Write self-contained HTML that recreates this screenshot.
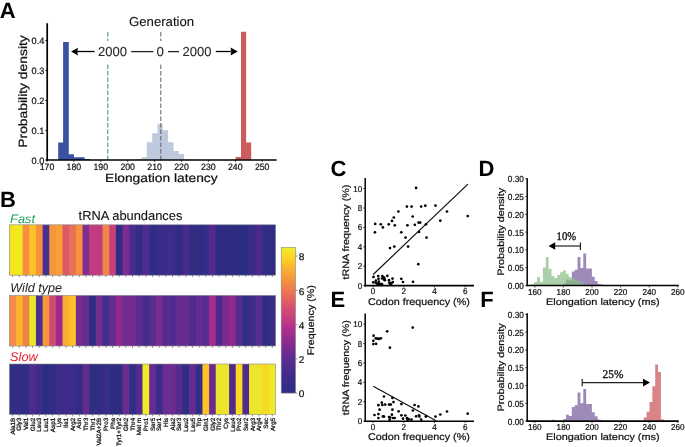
<!DOCTYPE html>
<html><head><meta charset="utf-8"><style>
html,body{margin:0;padding:0;background:#fff;}
svg{display:block;will-change:transform;text-rendering:geometricPrecision;font-family:"Liberation Sans", sans-serif;}
</style></head><body>
<svg width="685" height="447" viewBox="0 0 685 447">
<rect width="685" height="447" fill="#fff"/>
<text x="-0.20" y="17.70" font-size="22" fill="#000" font-weight="bold">A</text>
<path d="M136.20 160.00 L136.20 159.20 L141.50 159.20 L141.50 157.30 L146.80 157.30 L146.80 142.20 L152.20 142.20 L152.20 133.20 L157.50 133.20 L157.50 124.30 L162.80 124.30 L162.80 130.30 L168.10 130.30 L168.10 142.20 L173.50 142.20 L173.50 151.10 L178.80 151.10 L178.80 154.10 L184.10 154.10 L184.10 159.50 L189.40 159.50 L189.40 159.50 L194.70 159.50 L194.70 160.00 Z" fill="#bfc9de"/>
<path d="M58.20 160.00 L58.20 142.40 L63.10 142.40 L63.10 42.00 L68.80 42.00 L68.80 154.20 L73.90 154.20 L73.90 157.30 L79.30 157.30 L79.30 157.30 L84.70 157.30 L84.70 159.00 L90.00 159.00 L90.00 160.00 Z" fill="#3a52a2"/>
<path d="M235.60 160.00 L235.60 157.00 L241.00 157.00 L241.00 31.80 L246.10 31.80 L246.10 142.40 L251.20 142.40 L251.20 160.00 Z" fill="#cd5b5b"/>
<g stroke-dasharray="4.5 2.0" stroke-width="1.7">
<line x1="107.80" y1="32.00" x2="107.80" y2="160.00" stroke="#2a955a" stroke-width="1"/>
<line x1="160.80" y1="32.00" x2="160.80" y2="160.00" stroke="#606060" stroke-width="1"/>
</g>
<rect x="96.00" y="41.00" width="118.00" height="23.30" fill="#fff"/>
<line x1="47.20" y1="23.20" x2="47.20" y2="160.80" stroke="#000" stroke-width="1.7"/>
<line x1="46.40" y1="160.00" x2="276.60" y2="160.00" stroke="#000" stroke-width="1.7"/>
<line x1="45.20" y1="40.60" x2="47.20" y2="40.60" stroke="#000" stroke-width="0.8"/>
<text x="44.40" y="44.40" font-size="9.2" fill="#111" text-anchor="end" textLength="12.80" lengthAdjust="spacingAndGlyphs" stroke="#111" stroke-width="0.22">0.4</text>
<line x1="45.20" y1="70.40" x2="47.20" y2="70.40" stroke="#000" stroke-width="0.8"/>
<text x="44.40" y="74.20" font-size="9.2" fill="#111" text-anchor="end" textLength="12.80" lengthAdjust="spacingAndGlyphs" stroke="#111" stroke-width="0.22">0.3</text>
<line x1="45.20" y1="100.40" x2="47.20" y2="100.40" stroke="#000" stroke-width="0.8"/>
<text x="44.40" y="104.20" font-size="9.2" fill="#111" text-anchor="end" textLength="12.80" lengthAdjust="spacingAndGlyphs" stroke="#111" stroke-width="0.22">0.2</text>
<line x1="45.20" y1="130.40" x2="47.20" y2="130.40" stroke="#000" stroke-width="0.8"/>
<text x="44.40" y="134.20" font-size="9.2" fill="#111" text-anchor="end" textLength="12.80" lengthAdjust="spacingAndGlyphs" stroke="#111" stroke-width="0.22">0.1</text>
<line x1="45.20" y1="160.00" x2="47.20" y2="160.00" stroke="#000" stroke-width="0.8"/>
<text x="44.40" y="163.80" font-size="9.2" fill="#111" text-anchor="end" textLength="12.80" lengthAdjust="spacingAndGlyphs" stroke="#111" stroke-width="0.22">0.0</text>
<line x1="47.00" y1="160.00" x2="47.00" y2="161.80" stroke="#000" stroke-width="0.8"/>
<text x="47.00" y="169.70" font-size="9.2" fill="#111" text-anchor="middle" textLength="14.60" lengthAdjust="spacingAndGlyphs" stroke="#111" stroke-width="0.22">170</text>
<line x1="73.90" y1="160.00" x2="73.90" y2="161.80" stroke="#000" stroke-width="0.8"/>
<text x="73.90" y="169.70" font-size="9.2" fill="#111" text-anchor="middle" textLength="14.60" lengthAdjust="spacingAndGlyphs" stroke="#111" stroke-width="0.22">180</text>
<line x1="100.80" y1="160.00" x2="100.80" y2="161.80" stroke="#000" stroke-width="0.8"/>
<text x="100.80" y="169.70" font-size="9.2" fill="#111" text-anchor="middle" textLength="14.60" lengthAdjust="spacingAndGlyphs" stroke="#111" stroke-width="0.22">190</text>
<line x1="127.70" y1="160.00" x2="127.70" y2="161.80" stroke="#000" stroke-width="0.8"/>
<text x="127.70" y="169.70" font-size="9.2" fill="#111" text-anchor="middle" textLength="14.60" lengthAdjust="spacingAndGlyphs" stroke="#111" stroke-width="0.22">200</text>
<line x1="154.60" y1="160.00" x2="154.60" y2="161.80" stroke="#000" stroke-width="0.8"/>
<text x="154.60" y="169.70" font-size="9.2" fill="#111" text-anchor="middle" textLength="14.60" lengthAdjust="spacingAndGlyphs" stroke="#111" stroke-width="0.22">210</text>
<line x1="181.50" y1="160.00" x2="181.50" y2="161.80" stroke="#000" stroke-width="0.8"/>
<text x="181.50" y="169.70" font-size="9.2" fill="#111" text-anchor="middle" textLength="14.60" lengthAdjust="spacingAndGlyphs" stroke="#111" stroke-width="0.22">220</text>
<line x1="208.40" y1="160.00" x2="208.40" y2="161.80" stroke="#000" stroke-width="0.8"/>
<text x="208.40" y="169.70" font-size="9.2" fill="#111" text-anchor="middle" textLength="14.60" lengthAdjust="spacingAndGlyphs" stroke="#111" stroke-width="0.22">230</text>
<line x1="235.30" y1="160.00" x2="235.30" y2="161.80" stroke="#000" stroke-width="0.8"/>
<text x="235.30" y="169.70" font-size="9.2" fill="#111" text-anchor="middle" textLength="14.60" lengthAdjust="spacingAndGlyphs" stroke="#111" stroke-width="0.22">240</text>
<line x1="262.20" y1="160.00" x2="262.20" y2="161.80" stroke="#000" stroke-width="0.8"/>
<text x="262.20" y="169.70" font-size="9.2" fill="#111" text-anchor="middle" textLength="14.60" lengthAdjust="spacingAndGlyphs" stroke="#111" stroke-width="0.22">250</text>
<text x="105.00" y="182.00" font-size="12.0" fill="#111" textLength="112.60" lengthAdjust="spacingAndGlyphs" stroke="#111" stroke-width="0.22">Elongation latency</text>
<text x="26.70" y="147.70" font-size="12.0" fill="#111" textLength="112.50" lengthAdjust="spacingAndGlyphs" transform="rotate(-90 26.70 147.70)" stroke="#111" stroke-width="0.22">Probability density</text>
<text x="129.00" y="25.90" font-size="13.0" fill="#111" textLength="65.20" lengthAdjust="spacingAndGlyphs" stroke="#111" stroke-width="0.1">Generation</text>
<text x="98.00" y="55.80" font-size="13.0" fill="#2a2a2a" textLength="29.00" lengthAdjust="spacingAndGlyphs" stroke="#2a2a2a" stroke-width="0.1">2000</text>
<text x="156.60" y="55.80" font-size="13.0" fill="#2a2a2a" textLength="7.40" lengthAdjust="spacingAndGlyphs" stroke="#2a2a2a" stroke-width="0.1">0</text>
<text x="182.40" y="55.80" font-size="13.0" fill="#2a2a2a" textLength="29.00" lengthAdjust="spacingAndGlyphs" stroke="#2a2a2a" stroke-width="0.1">2000</text>
<line x1="131.20" y1="51.60" x2="153.40" y2="51.60" stroke="#222" stroke-width="1.3"/>
<line x1="168.00" y1="51.60" x2="179.00" y2="51.60" stroke="#222" stroke-width="1.3"/>
<line x1="77.00" y1="51.50" x2="94.70" y2="51.50" stroke="#000" stroke-width="1.3"/>
<path d="M71.1 51.5 L78.0 47.8 L77.2 51.5 L78.0 55.6 Z" fill="#000"/>
<line x1="215.80" y1="51.50" x2="231.00" y2="51.50" stroke="#000" stroke-width="1.3"/>
<path d="M237.8 51.5 L230.5 47.6 L231.3 51.5 L230.5 55.4 Z" fill="#000"/>
<text x="-0.10" y="206.80" font-size="22" fill="#000" font-weight="bold">B</text>
<text x="10.00" y="222.80" font-size="12.3" fill="#1fa05a" font-style="italic" textLength="25.20" lengthAdjust="spacingAndGlyphs">Fast</text>
<text x="78.60" y="220.00" font-size="13.0" fill="#111" textLength="103.80" lengthAdjust="spacingAndGlyphs" stroke="#111" stroke-width="0.1">tRNA abundances</text>
<text x="10.30" y="291.70" font-size="12.6" fill="#222" font-style="italic" textLength="51.80" lengthAdjust="spacingAndGlyphs">Wild type</text>
<text x="10.00" y="360.80" font-size="12.6" fill="#e3232c" font-style="italic" textLength="27.80" lengthAdjust="spacingAndGlyphs">Slow</text>
<rect x="9.30" y="224.80" width="7.36" height="50.40" fill="#f4e41f"/>
<rect x="15.96" y="224.80" width="7.36" height="50.40" fill="#f0e91f"/>
<rect x="22.62" y="224.80" width="7.36" height="50.40" fill="#f68d40"/>
<rect x="29.28" y="224.80" width="7.36" height="50.40" fill="#fbc328"/>
<rect x="35.94" y="224.80" width="7.36" height="50.40" fill="#f7913e"/>
<rect x="42.60" y="224.80" width="7.36" height="50.40" fill="#46318f"/>
<rect x="49.26" y="224.80" width="7.36" height="50.40" fill="#f6953d"/>
<rect x="55.92" y="224.80" width="7.36" height="50.40" fill="#f8a037"/>
<rect x="62.58" y="224.80" width="7.36" height="50.40" fill="#dc5a66"/>
<rect x="69.24" y="224.80" width="7.36" height="50.40" fill="#e97158"/>
<rect x="75.90" y="224.80" width="7.36" height="50.40" fill="#f6923f"/>
<rect x="82.56" y="224.80" width="7.36" height="50.40" fill="#7e2e8f"/>
<rect x="89.22" y="224.80" width="7.36" height="50.40" fill="#c23a80"/>
<rect x="95.88" y="224.80" width="7.36" height="50.40" fill="#c23a80"/>
<rect x="102.54" y="224.80" width="7.36" height="50.40" fill="#f0874a"/>
<rect x="109.20" y="224.80" width="7.36" height="50.40" fill="#c9417a"/>
<rect x="115.86" y="224.80" width="7.36" height="50.40" fill="#2f2d85"/>
<rect x="122.52" y="224.80" width="7.36" height="50.40" fill="#7a2c90"/>
<rect x="129.18" y="224.80" width="7.36" height="50.40" fill="#4a2c8e"/>
<rect x="135.84" y="224.80" width="7.36" height="50.40" fill="#302d85"/>
<rect x="142.50" y="224.80" width="7.36" height="50.40" fill="#532a8e"/>
<rect x="149.16" y="224.80" width="7.36" height="50.40" fill="#2f2d85"/>
<rect x="155.82" y="224.80" width="7.36" height="50.40" fill="#372c88"/>
<rect x="162.48" y="224.80" width="7.36" height="50.40" fill="#3b2b8a"/>
<rect x="169.14" y="224.80" width="7.36" height="50.40" fill="#3d2b8a"/>
<rect x="175.80" y="224.80" width="7.36" height="50.40" fill="#2f2d83"/>
<rect x="182.46" y="224.80" width="7.36" height="50.40" fill="#472a8c"/>
<rect x="189.12" y="224.80" width="7.36" height="50.40" fill="#302d82"/>
<rect x="195.78" y="224.80" width="7.36" height="50.40" fill="#302d80"/>
<rect x="202.44" y="224.80" width="7.36" height="50.40" fill="#322d88"/>
<rect x="209.10" y="224.80" width="7.36" height="50.40" fill="#52298d"/>
<rect x="215.76" y="224.80" width="7.36" height="50.40" fill="#2e2d82"/>
<rect x="222.42" y="224.80" width="7.36" height="50.40" fill="#2e2d82"/>
<rect x="229.08" y="224.80" width="7.36" height="50.40" fill="#2c2d80"/>
<rect x="235.74" y="224.80" width="7.36" height="50.40" fill="#2c2d80"/>
<rect x="242.40" y="224.80" width="7.36" height="50.40" fill="#2d2d82"/>
<rect x="249.06" y="224.80" width="7.36" height="50.40" fill="#3a2b88"/>
<rect x="255.72" y="224.80" width="7.36" height="50.40" fill="#4c2a8d"/>
<rect x="262.38" y="224.80" width="7.36" height="50.40" fill="#302d84"/>
<rect x="269.04" y="224.80" width="6.66" height="50.40" fill="#2f2d83"/>
<rect x="9.30" y="224.80" width="266.40" height="50.40" fill="none" stroke="#8a8a8a" stroke-width="0.6"/>
<line x1="12.63" y1="275.20" x2="12.63" y2="277.10" stroke="#666" stroke-width="0.7"/>
<line x1="19.29" y1="275.20" x2="19.29" y2="277.10" stroke="#666" stroke-width="0.7"/>
<line x1="25.95" y1="275.20" x2="25.95" y2="277.10" stroke="#666" stroke-width="0.7"/>
<line x1="32.61" y1="275.20" x2="32.61" y2="277.10" stroke="#666" stroke-width="0.7"/>
<line x1="39.27" y1="275.20" x2="39.27" y2="277.10" stroke="#666" stroke-width="0.7"/>
<line x1="45.93" y1="275.20" x2="45.93" y2="277.10" stroke="#666" stroke-width="0.7"/>
<line x1="52.59" y1="275.20" x2="52.59" y2="277.10" stroke="#666" stroke-width="0.7"/>
<line x1="59.25" y1="275.20" x2="59.25" y2="277.10" stroke="#666" stroke-width="0.7"/>
<line x1="65.91" y1="275.20" x2="65.91" y2="277.10" stroke="#666" stroke-width="0.7"/>
<line x1="72.57" y1="275.20" x2="72.57" y2="277.10" stroke="#666" stroke-width="0.7"/>
<line x1="79.23" y1="275.20" x2="79.23" y2="277.10" stroke="#666" stroke-width="0.7"/>
<line x1="85.89" y1="275.20" x2="85.89" y2="277.10" stroke="#666" stroke-width="0.7"/>
<line x1="92.55" y1="275.20" x2="92.55" y2="277.10" stroke="#666" stroke-width="0.7"/>
<line x1="99.21" y1="275.20" x2="99.21" y2="277.10" stroke="#666" stroke-width="0.7"/>
<line x1="105.87" y1="275.20" x2="105.87" y2="277.10" stroke="#666" stroke-width="0.7"/>
<line x1="112.53" y1="275.20" x2="112.53" y2="277.10" stroke="#666" stroke-width="0.7"/>
<line x1="119.19" y1="275.20" x2="119.19" y2="277.10" stroke="#666" stroke-width="0.7"/>
<line x1="125.85" y1="275.20" x2="125.85" y2="277.10" stroke="#666" stroke-width="0.7"/>
<line x1="132.51" y1="275.20" x2="132.51" y2="277.10" stroke="#666" stroke-width="0.7"/>
<line x1="139.17" y1="275.20" x2="139.17" y2="277.10" stroke="#666" stroke-width="0.7"/>
<line x1="145.83" y1="275.20" x2="145.83" y2="277.10" stroke="#666" stroke-width="0.7"/>
<line x1="152.49" y1="275.20" x2="152.49" y2="277.10" stroke="#666" stroke-width="0.7"/>
<line x1="159.15" y1="275.20" x2="159.15" y2="277.10" stroke="#666" stroke-width="0.7"/>
<line x1="165.81" y1="275.20" x2="165.81" y2="277.10" stroke="#666" stroke-width="0.7"/>
<line x1="172.47" y1="275.20" x2="172.47" y2="277.10" stroke="#666" stroke-width="0.7"/>
<line x1="179.13" y1="275.20" x2="179.13" y2="277.10" stroke="#666" stroke-width="0.7"/>
<line x1="185.79" y1="275.20" x2="185.79" y2="277.10" stroke="#666" stroke-width="0.7"/>
<line x1="192.45" y1="275.20" x2="192.45" y2="277.10" stroke="#666" stroke-width="0.7"/>
<line x1="199.11" y1="275.20" x2="199.11" y2="277.10" stroke="#666" stroke-width="0.7"/>
<line x1="205.77" y1="275.20" x2="205.77" y2="277.10" stroke="#666" stroke-width="0.7"/>
<line x1="212.43" y1="275.20" x2="212.43" y2="277.10" stroke="#666" stroke-width="0.7"/>
<line x1="219.09" y1="275.20" x2="219.09" y2="277.10" stroke="#666" stroke-width="0.7"/>
<line x1="225.75" y1="275.20" x2="225.75" y2="277.10" stroke="#666" stroke-width="0.7"/>
<line x1="232.41" y1="275.20" x2="232.41" y2="277.10" stroke="#666" stroke-width="0.7"/>
<line x1="239.07" y1="275.20" x2="239.07" y2="277.10" stroke="#666" stroke-width="0.7"/>
<line x1="245.73" y1="275.20" x2="245.73" y2="277.10" stroke="#666" stroke-width="0.7"/>
<line x1="252.39" y1="275.20" x2="252.39" y2="277.10" stroke="#666" stroke-width="0.7"/>
<line x1="259.05" y1="275.20" x2="259.05" y2="277.10" stroke="#666" stroke-width="0.7"/>
<line x1="265.71" y1="275.20" x2="265.71" y2="277.10" stroke="#666" stroke-width="0.7"/>
<line x1="272.37" y1="275.20" x2="272.37" y2="277.10" stroke="#666" stroke-width="0.7"/>
<rect x="9.30" y="295.40" width="7.36" height="50.60" fill="#f48a48"/>
<rect x="15.96" y="295.40" width="7.36" height="50.60" fill="#fbb42c"/>
<rect x="22.62" y="295.40" width="7.36" height="50.60" fill="#f08248"/>
<rect x="29.28" y="295.40" width="7.36" height="50.60" fill="#ebe52c"/>
<rect x="35.94" y="295.40" width="7.36" height="50.60" fill="#4a2f8f"/>
<rect x="42.60" y="295.40" width="7.36" height="50.60" fill="#f6963f"/>
<rect x="49.26" y="295.40" width="7.36" height="50.60" fill="#cc4c72"/>
<rect x="55.92" y="295.40" width="7.36" height="50.60" fill="#9c2a92"/>
<rect x="62.58" y="295.40" width="7.36" height="50.60" fill="#f9b02e"/>
<rect x="69.24" y="295.40" width="7.36" height="50.60" fill="#fbc228"/>
<rect x="75.90" y="295.40" width="7.36" height="50.60" fill="#752b90"/>
<rect x="82.56" y="295.40" width="7.36" height="50.60" fill="#662b8f"/>
<rect x="89.22" y="295.40" width="7.36" height="50.60" fill="#2f2d85"/>
<rect x="95.88" y="295.40" width="7.36" height="50.60" fill="#732c90"/>
<rect x="102.54" y="295.40" width="7.36" height="50.60" fill="#412d8c"/>
<rect x="109.20" y="295.40" width="7.36" height="50.60" fill="#622c8f"/>
<rect x="115.86" y="295.40" width="7.36" height="50.60" fill="#902a8c"/>
<rect x="122.52" y="295.40" width="7.36" height="50.60" fill="#6f2c91"/>
<rect x="129.18" y="295.40" width="7.36" height="50.60" fill="#742c90"/>
<rect x="135.84" y="295.40" width="7.36" height="50.60" fill="#5a2c8f"/>
<rect x="142.50" y="295.40" width="7.36" height="50.60" fill="#452c8c"/>
<rect x="149.16" y="295.40" width="7.36" height="50.60" fill="#582b8e"/>
<rect x="155.82" y="295.40" width="7.36" height="50.60" fill="#7a2b8f"/>
<rect x="162.48" y="295.40" width="7.36" height="50.60" fill="#582b8e"/>
<rect x="169.14" y="295.40" width="7.36" height="50.60" fill="#502b8d"/>
<rect x="175.80" y="295.40" width="7.36" height="50.60" fill="#672c90"/>
<rect x="182.46" y="295.40" width="7.36" height="50.60" fill="#672c90"/>
<rect x="189.12" y="295.40" width="7.36" height="50.60" fill="#4f2b8d"/>
<rect x="195.78" y="295.40" width="7.36" height="50.60" fill="#632c90"/>
<rect x="202.44" y="295.40" width="7.36" height="50.60" fill="#562c8e"/>
<rect x="209.10" y="295.40" width="7.36" height="50.60" fill="#a82a8a"/>
<rect x="215.76" y="295.40" width="7.36" height="50.60" fill="#4a2b8d"/>
<rect x="222.42" y="295.40" width="7.36" height="50.60" fill="#7e2b8f"/>
<rect x="229.08" y="295.40" width="7.36" height="50.60" fill="#8e2b8c"/>
<rect x="235.74" y="295.40" width="7.36" height="50.60" fill="#562b8e"/>
<rect x="242.40" y="295.40" width="7.36" height="50.60" fill="#302d85"/>
<rect x="249.06" y="295.40" width="7.36" height="50.60" fill="#3d2c89"/>
<rect x="255.72" y="295.40" width="7.36" height="50.60" fill="#582b8e"/>
<rect x="262.38" y="295.40" width="7.36" height="50.60" fill="#2e2d83"/>
<rect x="269.04" y="295.40" width="6.66" height="50.60" fill="#3b2c89"/>
<rect x="9.30" y="295.40" width="266.40" height="50.60" fill="none" stroke="#8a8a8a" stroke-width="0.6"/>
<line x1="12.63" y1="346.00" x2="12.63" y2="347.90" stroke="#666" stroke-width="0.7"/>
<line x1="19.29" y1="346.00" x2="19.29" y2="347.90" stroke="#666" stroke-width="0.7"/>
<line x1="25.95" y1="346.00" x2="25.95" y2="347.90" stroke="#666" stroke-width="0.7"/>
<line x1="32.61" y1="346.00" x2="32.61" y2="347.90" stroke="#666" stroke-width="0.7"/>
<line x1="39.27" y1="346.00" x2="39.27" y2="347.90" stroke="#666" stroke-width="0.7"/>
<line x1="45.93" y1="346.00" x2="45.93" y2="347.90" stroke="#666" stroke-width="0.7"/>
<line x1="52.59" y1="346.00" x2="52.59" y2="347.90" stroke="#666" stroke-width="0.7"/>
<line x1="59.25" y1="346.00" x2="59.25" y2="347.90" stroke="#666" stroke-width="0.7"/>
<line x1="65.91" y1="346.00" x2="65.91" y2="347.90" stroke="#666" stroke-width="0.7"/>
<line x1="72.57" y1="346.00" x2="72.57" y2="347.90" stroke="#666" stroke-width="0.7"/>
<line x1="79.23" y1="346.00" x2="79.23" y2="347.90" stroke="#666" stroke-width="0.7"/>
<line x1="85.89" y1="346.00" x2="85.89" y2="347.90" stroke="#666" stroke-width="0.7"/>
<line x1="92.55" y1="346.00" x2="92.55" y2="347.90" stroke="#666" stroke-width="0.7"/>
<line x1="99.21" y1="346.00" x2="99.21" y2="347.90" stroke="#666" stroke-width="0.7"/>
<line x1="105.87" y1="346.00" x2="105.87" y2="347.90" stroke="#666" stroke-width="0.7"/>
<line x1="112.53" y1="346.00" x2="112.53" y2="347.90" stroke="#666" stroke-width="0.7"/>
<line x1="119.19" y1="346.00" x2="119.19" y2="347.90" stroke="#666" stroke-width="0.7"/>
<line x1="125.85" y1="346.00" x2="125.85" y2="347.90" stroke="#666" stroke-width="0.7"/>
<line x1="132.51" y1="346.00" x2="132.51" y2="347.90" stroke="#666" stroke-width="0.7"/>
<line x1="139.17" y1="346.00" x2="139.17" y2="347.90" stroke="#666" stroke-width="0.7"/>
<line x1="145.83" y1="346.00" x2="145.83" y2="347.90" stroke="#666" stroke-width="0.7"/>
<line x1="152.49" y1="346.00" x2="152.49" y2="347.90" stroke="#666" stroke-width="0.7"/>
<line x1="159.15" y1="346.00" x2="159.15" y2="347.90" stroke="#666" stroke-width="0.7"/>
<line x1="165.81" y1="346.00" x2="165.81" y2="347.90" stroke="#666" stroke-width="0.7"/>
<line x1="172.47" y1="346.00" x2="172.47" y2="347.90" stroke="#666" stroke-width="0.7"/>
<line x1="179.13" y1="346.00" x2="179.13" y2="347.90" stroke="#666" stroke-width="0.7"/>
<line x1="185.79" y1="346.00" x2="185.79" y2="347.90" stroke="#666" stroke-width="0.7"/>
<line x1="192.45" y1="346.00" x2="192.45" y2="347.90" stroke="#666" stroke-width="0.7"/>
<line x1="199.11" y1="346.00" x2="199.11" y2="347.90" stroke="#666" stroke-width="0.7"/>
<line x1="205.77" y1="346.00" x2="205.77" y2="347.90" stroke="#666" stroke-width="0.7"/>
<line x1="212.43" y1="346.00" x2="212.43" y2="347.90" stroke="#666" stroke-width="0.7"/>
<line x1="219.09" y1="346.00" x2="219.09" y2="347.90" stroke="#666" stroke-width="0.7"/>
<line x1="225.75" y1="346.00" x2="225.75" y2="347.90" stroke="#666" stroke-width="0.7"/>
<line x1="232.41" y1="346.00" x2="232.41" y2="347.90" stroke="#666" stroke-width="0.7"/>
<line x1="239.07" y1="346.00" x2="239.07" y2="347.90" stroke="#666" stroke-width="0.7"/>
<line x1="245.73" y1="346.00" x2="245.73" y2="347.90" stroke="#666" stroke-width="0.7"/>
<line x1="252.39" y1="346.00" x2="252.39" y2="347.90" stroke="#666" stroke-width="0.7"/>
<line x1="259.05" y1="346.00" x2="259.05" y2="347.90" stroke="#666" stroke-width="0.7"/>
<line x1="265.71" y1="346.00" x2="265.71" y2="347.90" stroke="#666" stroke-width="0.7"/>
<line x1="272.37" y1="346.00" x2="272.37" y2="347.90" stroke="#666" stroke-width="0.7"/>
<rect x="9.30" y="364.00" width="7.36" height="50.50" fill="#312d85"/>
<rect x="15.96" y="364.00" width="7.36" height="50.50" fill="#352c88"/>
<rect x="22.62" y="364.00" width="7.36" height="50.50" fill="#302d85"/>
<rect x="29.28" y="364.00" width="7.36" height="50.50" fill="#502b8c"/>
<rect x="35.94" y="364.00" width="7.36" height="50.50" fill="#3d2c8a"/>
<rect x="42.60" y="364.00" width="7.36" height="50.50" fill="#2d2d80"/>
<rect x="49.26" y="364.00" width="7.36" height="50.50" fill="#302d84"/>
<rect x="55.92" y="364.00" width="7.36" height="50.50" fill="#3d2c8a"/>
<rect x="62.58" y="364.00" width="7.36" height="50.50" fill="#3e2c8a"/>
<rect x="69.24" y="364.00" width="7.36" height="50.50" fill="#3c2c89"/>
<rect x="75.90" y="364.00" width="7.36" height="50.50" fill="#312d85"/>
<rect x="82.56" y="364.00" width="7.36" height="50.50" fill="#622b8e"/>
<rect x="89.22" y="364.00" width="7.36" height="50.50" fill="#2e2d82"/>
<rect x="95.88" y="364.00" width="7.36" height="50.50" fill="#2e2d82"/>
<rect x="102.54" y="364.00" width="7.36" height="50.50" fill="#3a2b89"/>
<rect x="109.20" y="364.00" width="7.36" height="50.50" fill="#2e2d82"/>
<rect x="115.86" y="364.00" width="7.36" height="50.50" fill="#2e2d82"/>
<rect x="122.52" y="364.00" width="7.36" height="50.50" fill="#6a2c8f"/>
<rect x="129.18" y="364.00" width="7.36" height="50.50" fill="#302d84"/>
<rect x="135.84" y="364.00" width="7.36" height="50.50" fill="#522b8d"/>
<rect x="142.50" y="364.00" width="7.36" height="50.50" fill="#eeeb2a"/>
<rect x="149.16" y="364.00" width="7.36" height="50.50" fill="#672c90"/>
<rect x="155.82" y="364.00" width="7.36" height="50.50" fill="#3a2c89"/>
<rect x="162.48" y="364.00" width="7.36" height="50.50" fill="#692c90"/>
<rect x="169.14" y="364.00" width="7.36" height="50.50" fill="#6b2c90"/>
<rect x="175.80" y="364.00" width="7.36" height="50.50" fill="#552b8e"/>
<rect x="182.46" y="364.00" width="7.36" height="50.50" fill="#2f2d84"/>
<rect x="189.12" y="364.00" width="7.36" height="50.50" fill="#652c8f"/>
<rect x="195.78" y="364.00" width="7.36" height="50.50" fill="#302d84"/>
<rect x="202.44" y="364.00" width="7.36" height="50.50" fill="#fbc328"/>
<rect x="209.10" y="364.00" width="7.36" height="50.50" fill="#6a2c90"/>
<rect x="215.76" y="364.00" width="7.36" height="50.50" fill="#ebe42c"/>
<rect x="222.42" y="364.00" width="7.36" height="50.50" fill="#ece52c"/>
<rect x="229.08" y="364.00" width="7.36" height="50.50" fill="#4e2b8c"/>
<rect x="235.74" y="364.00" width="7.36" height="50.50" fill="#f9dc20"/>
<rect x="242.40" y="364.00" width="7.36" height="50.50" fill="#4e2b8c"/>
<rect x="249.06" y="364.00" width="7.36" height="50.50" fill="#ebe52c"/>
<rect x="255.72" y="364.00" width="7.36" height="50.50" fill="#ebe52c"/>
<rect x="262.38" y="364.00" width="7.36" height="50.50" fill="#f8da20"/>
<rect x="269.04" y="364.00" width="6.66" height="50.50" fill="#f0e82a"/>
<rect x="9.30" y="364.00" width="266.40" height="50.50" fill="none" stroke="#8a8a8a" stroke-width="0.6"/>
<line x1="12.63" y1="414.50" x2="12.63" y2="416.40" stroke="#666" stroke-width="0.7"/>
<line x1="19.29" y1="414.50" x2="19.29" y2="416.40" stroke="#666" stroke-width="0.7"/>
<line x1="25.95" y1="414.50" x2="25.95" y2="416.40" stroke="#666" stroke-width="0.7"/>
<line x1="32.61" y1="414.50" x2="32.61" y2="416.40" stroke="#666" stroke-width="0.7"/>
<line x1="39.27" y1="414.50" x2="39.27" y2="416.40" stroke="#666" stroke-width="0.7"/>
<line x1="45.93" y1="414.50" x2="45.93" y2="416.40" stroke="#666" stroke-width="0.7"/>
<line x1="52.59" y1="414.50" x2="52.59" y2="416.40" stroke="#666" stroke-width="0.7"/>
<line x1="59.25" y1="414.50" x2="59.25" y2="416.40" stroke="#666" stroke-width="0.7"/>
<line x1="65.91" y1="414.50" x2="65.91" y2="416.40" stroke="#666" stroke-width="0.7"/>
<line x1="72.57" y1="414.50" x2="72.57" y2="416.40" stroke="#666" stroke-width="0.7"/>
<line x1="79.23" y1="414.50" x2="79.23" y2="416.40" stroke="#666" stroke-width="0.7"/>
<line x1="85.89" y1="414.50" x2="85.89" y2="416.40" stroke="#666" stroke-width="0.7"/>
<line x1="92.55" y1="414.50" x2="92.55" y2="416.40" stroke="#666" stroke-width="0.7"/>
<line x1="99.21" y1="414.50" x2="99.21" y2="416.40" stroke="#666" stroke-width="0.7"/>
<line x1="105.87" y1="414.50" x2="105.87" y2="416.40" stroke="#666" stroke-width="0.7"/>
<line x1="112.53" y1="414.50" x2="112.53" y2="416.40" stroke="#666" stroke-width="0.7"/>
<line x1="119.19" y1="414.50" x2="119.19" y2="416.40" stroke="#666" stroke-width="0.7"/>
<line x1="125.85" y1="414.50" x2="125.85" y2="416.40" stroke="#666" stroke-width="0.7"/>
<line x1="132.51" y1="414.50" x2="132.51" y2="416.40" stroke="#666" stroke-width="0.7"/>
<line x1="139.17" y1="414.50" x2="139.17" y2="416.40" stroke="#666" stroke-width="0.7"/>
<line x1="145.83" y1="414.50" x2="145.83" y2="416.40" stroke="#666" stroke-width="0.7"/>
<line x1="152.49" y1="414.50" x2="152.49" y2="416.40" stroke="#666" stroke-width="0.7"/>
<line x1="159.15" y1="414.50" x2="159.15" y2="416.40" stroke="#666" stroke-width="0.7"/>
<line x1="165.81" y1="414.50" x2="165.81" y2="416.40" stroke="#666" stroke-width="0.7"/>
<line x1="172.47" y1="414.50" x2="172.47" y2="416.40" stroke="#666" stroke-width="0.7"/>
<line x1="179.13" y1="414.50" x2="179.13" y2="416.40" stroke="#666" stroke-width="0.7"/>
<line x1="185.79" y1="414.50" x2="185.79" y2="416.40" stroke="#666" stroke-width="0.7"/>
<line x1="192.45" y1="414.50" x2="192.45" y2="416.40" stroke="#666" stroke-width="0.7"/>
<line x1="199.11" y1="414.50" x2="199.11" y2="416.40" stroke="#666" stroke-width="0.7"/>
<line x1="205.77" y1="414.50" x2="205.77" y2="416.40" stroke="#666" stroke-width="0.7"/>
<line x1="212.43" y1="414.50" x2="212.43" y2="416.40" stroke="#666" stroke-width="0.7"/>
<line x1="219.09" y1="414.50" x2="219.09" y2="416.40" stroke="#666" stroke-width="0.7"/>
<line x1="225.75" y1="414.50" x2="225.75" y2="416.40" stroke="#666" stroke-width="0.7"/>
<line x1="232.41" y1="414.50" x2="232.41" y2="416.40" stroke="#666" stroke-width="0.7"/>
<line x1="239.07" y1="414.50" x2="239.07" y2="416.40" stroke="#666" stroke-width="0.7"/>
<line x1="245.73" y1="414.50" x2="245.73" y2="416.40" stroke="#666" stroke-width="0.7"/>
<line x1="252.39" y1="414.50" x2="252.39" y2="416.40" stroke="#666" stroke-width="0.7"/>
<line x1="259.05" y1="414.50" x2="259.05" y2="416.40" stroke="#666" stroke-width="0.7"/>
<line x1="265.71" y1="414.50" x2="265.71" y2="416.40" stroke="#666" stroke-width="0.7"/>
<line x1="272.37" y1="414.50" x2="272.37" y2="416.40" stroke="#666" stroke-width="0.7"/>
<text x="14.83" y="417.80" font-size="6.3" fill="#111" text-anchor="end" transform="rotate(-90 14.83 417.80)" stroke="#111" stroke-width="0.25">Ala1B</text>
<text x="21.49" y="417.80" font-size="6.3" fill="#111" text-anchor="end" transform="rotate(-90 21.49 417.80)" stroke="#111" stroke-width="0.25">Gly3</text>
<text x="28.15" y="417.80" font-size="6.3" fill="#111" text-anchor="end" transform="rotate(-90 28.15 417.80)" stroke="#111" stroke-width="0.25">Val1</text>
<text x="34.81" y="417.80" font-size="6.3" fill="#111" text-anchor="end" transform="rotate(-90 34.81 417.80)" stroke="#111" stroke-width="0.25">Glu2</text>
<text x="41.47" y="417.80" font-size="6.3" fill="#111" text-anchor="end" transform="rotate(-90 41.47 417.80)" stroke="#111" stroke-width="0.25">Leu3</text>
<text x="48.13" y="417.80" font-size="6.3" fill="#111" text-anchor="end" transform="rotate(-90 48.13 417.80)" stroke="#111" stroke-width="0.25">Leu1</text>
<text x="54.79" y="417.80" font-size="6.3" fill="#111" text-anchor="end" transform="rotate(-90 54.79 417.80)" stroke="#111" stroke-width="0.25">Asp1</text>
<text x="61.45" y="417.80" font-size="6.3" fill="#111" text-anchor="end" transform="rotate(-90 61.45 417.80)" stroke="#111" stroke-width="0.25">Lys</text>
<text x="68.11" y="417.80" font-size="6.3" fill="#111" text-anchor="end" transform="rotate(-90 68.11 417.80)" stroke="#111" stroke-width="0.25">Ile1</text>
<text x="74.77" y="417.80" font-size="6.3" fill="#111" text-anchor="end" transform="rotate(-90 74.77 417.80)" stroke="#111" stroke-width="0.25">Arg2</text>
<text x="81.43" y="417.80" font-size="6.3" fill="#111" text-anchor="end" transform="rotate(-90 81.43 417.80)" stroke="#111" stroke-width="0.25">Asn</text>
<text x="88.09" y="417.80" font-size="6.3" fill="#111" text-anchor="end" transform="rotate(-90 88.09 417.80)" stroke="#111" stroke-width="0.25">Thr3</text>
<text x="94.75" y="417.80" font-size="6.3" fill="#111" text-anchor="end" transform="rotate(-90 94.75 417.80)" stroke="#111" stroke-width="0.25">Thr1</text>
<text x="101.41" y="417.80" font-size="6.3" fill="#111" text-anchor="end" transform="rotate(-90 101.41 417.80)" stroke="#111" stroke-width="0.25">Val2A+2B</text>
<text x="108.07" y="417.80" font-size="6.3" fill="#111" text-anchor="end" transform="rotate(-90 108.07 417.80)" stroke="#111" stroke-width="0.25">Pro3</text>
<text x="114.73" y="417.80" font-size="6.3" fill="#111" text-anchor="end" transform="rotate(-90 114.73 417.80)" stroke="#111" stroke-width="0.25">Phe</text>
<text x="121.39" y="417.80" font-size="6.3" fill="#111" text-anchor="end" transform="rotate(-90 121.39 417.80)" stroke="#111" stroke-width="0.25">Tyr1+Tyr2</text>
<text x="128.05" y="417.80" font-size="6.3" fill="#111" text-anchor="end" transform="rotate(-90 128.05 417.80)" stroke="#111" stroke-width="0.25">Gln2</text>
<text x="134.71" y="417.80" font-size="6.3" fill="#111" text-anchor="end" transform="rotate(-90 134.71 417.80)" stroke="#111" stroke-width="0.25">Thr4</text>
<text x="141.37" y="417.80" font-size="6.3" fill="#111" text-anchor="end" transform="rotate(-90 141.37 417.80)" stroke="#111" stroke-width="0.25">Met m</text>
<text x="148.03" y="417.80" font-size="6.3" fill="#111" text-anchor="end" transform="rotate(-90 148.03 417.80)" stroke="#111" stroke-width="0.25">Pro1</text>
<text x="154.69" y="417.80" font-size="6.3" fill="#111" text-anchor="end" transform="rotate(-90 154.69 417.80)" stroke="#111" stroke-width="0.25">Ser5</text>
<text x="161.35" y="417.80" font-size="6.3" fill="#111" text-anchor="end" transform="rotate(-90 161.35 417.80)" stroke="#111" stroke-width="0.25">Ser1</text>
<text x="168.01" y="417.80" font-size="6.3" fill="#111" text-anchor="end" transform="rotate(-90 168.01 417.80)" stroke="#111" stroke-width="0.25">His</text>
<text x="174.67" y="417.80" font-size="6.3" fill="#111" text-anchor="end" transform="rotate(-90 174.67 417.80)" stroke="#111" stroke-width="0.25">Ala2</text>
<text x="181.33" y="417.80" font-size="6.3" fill="#111" text-anchor="end" transform="rotate(-90 181.33 417.80)" stroke="#111" stroke-width="0.25">Ser3</text>
<text x="187.99" y="417.80" font-size="6.3" fill="#111" text-anchor="end" transform="rotate(-90 187.99 417.80)" stroke="#111" stroke-width="0.25">Leu2</text>
<text x="194.65" y="417.80" font-size="6.3" fill="#111" text-anchor="end" transform="rotate(-90 194.65 417.80)" stroke="#111" stroke-width="0.25">Leu5</text>
<text x="201.31" y="417.80" font-size="6.3" fill="#111" text-anchor="end" transform="rotate(-90 201.31 417.80)" stroke="#111" stroke-width="0.25">Trp</text>
<text x="207.97" y="417.80" font-size="6.3" fill="#111" text-anchor="end" transform="rotate(-90 207.97 417.80)" stroke="#111" stroke-width="0.25">Gln1</text>
<text x="214.63" y="417.80" font-size="6.3" fill="#111" text-anchor="end" transform="rotate(-90 214.63 417.80)" stroke="#111" stroke-width="0.25">Gly2</text>
<text x="221.29" y="417.80" font-size="6.3" fill="#111" text-anchor="end" transform="rotate(-90 221.29 417.80)" stroke="#111" stroke-width="0.25">Thr2</text>
<text x="227.95" y="417.80" font-size="6.3" fill="#111" text-anchor="end" transform="rotate(-90 227.95 417.80)" stroke="#111" stroke-width="0.25">Cys</text>
<text x="234.61" y="417.80" font-size="6.3" fill="#111" text-anchor="end" transform="rotate(-90 234.61 417.80)" stroke="#111" stroke-width="0.25">Leu4</text>
<text x="241.27" y="417.80" font-size="6.3" fill="#111" text-anchor="end" transform="rotate(-90 241.27 417.80)" stroke="#111" stroke-width="0.25">Pro2</text>
<text x="247.93" y="417.80" font-size="6.3" fill="#111" text-anchor="end" transform="rotate(-90 247.93 417.80)" stroke="#111" stroke-width="0.25">Ser2</text>
<text x="254.59" y="417.80" font-size="6.3" fill="#111" text-anchor="end" transform="rotate(-90 254.59 417.80)" stroke="#111" stroke-width="0.25">Arg3</text>
<text x="261.25" y="417.80" font-size="6.3" fill="#111" text-anchor="end" transform="rotate(-90 261.25 417.80)" stroke="#111" stroke-width="0.25">Arg4</text>
<text x="267.91" y="417.80" font-size="6.3" fill="#111" text-anchor="end" transform="rotate(-90 267.91 417.80)" stroke="#111" stroke-width="0.25">Sec</text>
<text x="274.57" y="417.80" font-size="6.3" fill="#111" text-anchor="end" transform="rotate(-90 274.57 417.80)" stroke="#111" stroke-width="0.25">Arg5</text>
<defs><linearGradient id="cb" x1="0" y1="1" x2="0" y2="0"><stop offset="0" stop-color="#2d2d85"/><stop offset="0.12" stop-color="#3f2c8b"/><stop offset="0.235" stop-color="#5c2b8f"/><stop offset="0.35" stop-color="#8a2a8f"/><stop offset="0.47" stop-color="#b8338a"/><stop offset="0.59" stop-color="#d9506f"/><stop offset="0.70" stop-color="#ee7652"/><stop offset="0.82" stop-color="#f9a337"/><stop offset="0.92" stop-color="#fbcf27"/><stop offset="1" stop-color="#f1ec2b"/></linearGradient></defs>
<rect x="281.2" y="247.4" width="14.4" height="145.7" fill="url(#cb)" stroke="#8a8a8a" stroke-width="0.6"/>
<line x1="295.60" y1="393.10" x2="297.40" y2="393.10" stroke="#333" stroke-width="0.6"/>
<text x="298.80" y="397.30" font-size="9.8" fill="#111" textLength="5.60" lengthAdjust="spacingAndGlyphs" stroke="#111" stroke-width="0.22">0</text>
<line x1="295.60" y1="358.85" x2="297.40" y2="358.85" stroke="#333" stroke-width="0.6"/>
<text x="298.80" y="363.05" font-size="9.8" fill="#111" textLength="5.60" lengthAdjust="spacingAndGlyphs" stroke="#111" stroke-width="0.22">2</text>
<line x1="295.60" y1="324.60" x2="297.40" y2="324.60" stroke="#333" stroke-width="0.6"/>
<text x="298.80" y="328.80" font-size="9.8" fill="#111" textLength="5.60" lengthAdjust="spacingAndGlyphs" stroke="#111" stroke-width="0.22">4</text>
<line x1="295.60" y1="290.35" x2="297.40" y2="290.35" stroke="#333" stroke-width="0.6"/>
<text x="298.80" y="294.55" font-size="9.8" fill="#111" textLength="5.60" lengthAdjust="spacingAndGlyphs" stroke="#111" stroke-width="0.22">6</text>
<line x1="295.60" y1="256.10" x2="297.40" y2="256.10" stroke="#333" stroke-width="0.6"/>
<text x="298.80" y="260.30" font-size="9.8" fill="#111" textLength="5.60" lengthAdjust="spacingAndGlyphs" stroke="#111" stroke-width="0.22">8</text>
<text x="314.30" y="355.20" font-size="9.6" fill="#111" textLength="70.00" lengthAdjust="spacingAndGlyphs" transform="rotate(-90 314.30 355.20)" stroke="#111" stroke-width="0.22">Frequency (%)</text>
<text x="330.40" y="176.00" font-size="22" fill="#000" font-weight="bold">C</text>
<line x1="365.20" y1="178.00" x2="365.20" y2="286.40" stroke="#000" stroke-width="1.5"/>
<line x1="364.45" y1="285.60" x2="474.00" y2="285.60" stroke="#000" stroke-width="1.6"/>
<line x1="363.20" y1="285.60" x2="365.20" y2="285.60" stroke="#000" stroke-width="0.7"/>
<text x="362.30" y="288.60" font-size="8.4" fill="#111" text-anchor="end" textLength="4.50" lengthAdjust="spacingAndGlyphs" stroke="#111" stroke-width="0.22">0</text>
<line x1="363.20" y1="266.20" x2="365.20" y2="266.20" stroke="#000" stroke-width="0.7"/>
<text x="362.30" y="269.20" font-size="8.4" fill="#111" text-anchor="end" textLength="4.50" lengthAdjust="spacingAndGlyphs" stroke="#111" stroke-width="0.22">2</text>
<line x1="363.20" y1="246.80" x2="365.20" y2="246.80" stroke="#000" stroke-width="0.7"/>
<text x="362.30" y="249.80" font-size="8.4" fill="#111" text-anchor="end" textLength="4.50" lengthAdjust="spacingAndGlyphs" stroke="#111" stroke-width="0.22">4</text>
<line x1="363.20" y1="227.40" x2="365.20" y2="227.40" stroke="#000" stroke-width="0.7"/>
<text x="362.30" y="230.40" font-size="8.4" fill="#111" text-anchor="end" textLength="4.50" lengthAdjust="spacingAndGlyphs" stroke="#111" stroke-width="0.22">6</text>
<line x1="363.20" y1="208.00" x2="365.20" y2="208.00" stroke="#000" stroke-width="0.7"/>
<text x="362.30" y="211.00" font-size="8.4" fill="#111" text-anchor="end" textLength="4.50" lengthAdjust="spacingAndGlyphs" stroke="#111" stroke-width="0.22">8</text>
<line x1="363.20" y1="188.60" x2="365.20" y2="188.60" stroke="#000" stroke-width="0.7"/>
<text x="362.30" y="191.60" font-size="8.4" fill="#111" text-anchor="end" textLength="9.00" lengthAdjust="spacingAndGlyphs" stroke="#111" stroke-width="0.22">10</text>
<line x1="373.10" y1="285.60" x2="373.10" y2="287.60" stroke="#000" stroke-width="0.7"/>
<text x="373.10" y="294.20" font-size="8.4" fill="#111" text-anchor="middle" textLength="4.50" lengthAdjust="spacingAndGlyphs" stroke="#111" stroke-width="0.22">0</text>
<line x1="403.80" y1="285.60" x2="403.80" y2="287.60" stroke="#000" stroke-width="0.7"/>
<text x="403.80" y="294.20" font-size="8.4" fill="#111" text-anchor="middle" textLength="4.50" lengthAdjust="spacingAndGlyphs" stroke="#111" stroke-width="0.22">2</text>
<line x1="434.50" y1="285.60" x2="434.50" y2="287.60" stroke="#000" stroke-width="0.7"/>
<text x="434.50" y="294.20" font-size="8.4" fill="#111" text-anchor="middle" textLength="4.50" lengthAdjust="spacingAndGlyphs" stroke="#111" stroke-width="0.22">4</text>
<line x1="465.20" y1="285.60" x2="465.20" y2="287.60" stroke="#000" stroke-width="0.7"/>
<text x="465.20" y="294.20" font-size="8.4" fill="#111" text-anchor="middle" textLength="4.50" lengthAdjust="spacingAndGlyphs" stroke="#111" stroke-width="0.22">6</text>
<text x="368.00" y="304.50" font-size="9.8" fill="#111" textLength="101.80" lengthAdjust="spacingAndGlyphs" stroke="#111" stroke-width="0.22">Codon frequency (%)</text>
<text x="348.90" y="279.60" font-size="9.4" fill="#111" textLength="95.00" lengthAdjust="spacingAndGlyphs" transform="rotate(-90 348.90 279.60)" stroke="#111" stroke-width="0.22">tRNA frequency (%)</text>
<line x1="373.20" y1="274.50" x2="467.90" y2="184.10" stroke="#111" stroke-width="1.2"/>
<circle cx="416.10" cy="187.90" r="1.35"/>
<circle cx="406.90" cy="206.60" r="1.35"/>
<circle cx="411.60" cy="206.60" r="1.35"/>
<circle cx="421.20" cy="206.60" r="1.35"/>
<circle cx="425.30" cy="205.70" r="1.35"/>
<circle cx="435.50" cy="205.60" r="1.35"/>
<circle cx="398.40" cy="211.50" r="1.35"/>
<circle cx="393.80" cy="217.50" r="1.35"/>
<circle cx="392.00" cy="220.90" r="1.35"/>
<circle cx="412.70" cy="216.50" r="1.35"/>
<circle cx="447.00" cy="211.50" r="1.35"/>
<circle cx="467.70" cy="216.10" r="1.35"/>
<circle cx="440.30" cy="220.70" r="1.35"/>
<circle cx="418.60" cy="222.60" r="1.35"/>
<circle cx="420.20" cy="222.60" r="1.35"/>
<circle cx="375.20" cy="223.90" r="1.35"/>
<circle cx="380.80" cy="224.30" r="1.35"/>
<circle cx="382.90" cy="227.40" r="1.35"/>
<circle cx="388.70" cy="224.30" r="1.35"/>
<circle cx="394.80" cy="225.30" r="1.35"/>
<circle cx="407.40" cy="225.30" r="1.35"/>
<circle cx="414.80" cy="224.80" r="1.35"/>
<circle cx="426.00" cy="224.30" r="1.35"/>
<circle cx="374.90" cy="232.30" r="1.35"/>
<circle cx="401.30" cy="232.30" r="1.35"/>
<circle cx="419.00" cy="232.00" r="1.35"/>
<circle cx="405.60" cy="237.60" r="1.35"/>
<circle cx="426.50" cy="237.60" r="1.35"/>
<circle cx="390.00" cy="248.10" r="1.35"/>
<circle cx="394.30" cy="246.60" r="1.35"/>
<circle cx="408.10" cy="246.60" r="1.35"/>
<circle cx="418.30" cy="264.20" r="1.35"/>
<circle cx="373.50" cy="276.90" r="1.35"/>
<circle cx="373.30" cy="282.30" r="1.35"/>
<circle cx="375.90" cy="280.50" r="1.35"/>
<circle cx="375.60" cy="282.60" r="1.35"/>
<circle cx="378.20" cy="276.10" r="1.35"/>
<circle cx="378.50" cy="278.80" r="1.35"/>
<circle cx="378.80" cy="281.70" r="1.35"/>
<circle cx="378.20" cy="284.00" r="1.35"/>
<circle cx="380.60" cy="284.00" r="1.35"/>
<circle cx="382.00" cy="284.00" r="1.35"/>
<circle cx="382.30" cy="276.10" r="1.35"/>
<circle cx="382.00" cy="278.50" r="1.35"/>
<circle cx="384.40" cy="277.90" r="1.35"/>
<circle cx="384.90" cy="280.20" r="1.35"/>
<circle cx="387.30" cy="275.80" r="1.35"/>
<circle cx="389.00" cy="280.20" r="1.35"/>
<circle cx="389.90" cy="283.40" r="1.35"/>
<circle cx="391.40" cy="283.40" r="1.35"/>
<circle cx="392.50" cy="278.60" r="1.35"/>
<circle cx="392.80" cy="282.00" r="1.35"/>
<circle cx="401.30" cy="278.80" r="1.35"/>
<circle cx="403.00" cy="282.00" r="1.35"/>
<circle cx="413.00" cy="281.80" r="1.35"/>
<circle cx="383.50" cy="277.30" r="1.35"/>
<circle cx="384.10" cy="279.60" r="1.35"/>
<circle cx="377.30" cy="283.70" r="1.35"/>
<circle cx="379.70" cy="284.00" r="1.35"/>
<circle cx="389.30" cy="282.60" r="1.35"/>
<circle cx="390.50" cy="284.00" r="1.35"/>
<text x="330.50" y="306.80" font-size="22" fill="#000" font-weight="bold">E</text>
<line x1="365.20" y1="313.60" x2="365.20" y2="422.00" stroke="#000" stroke-width="1.5"/>
<line x1="364.45" y1="421.20" x2="474.00" y2="421.20" stroke="#000" stroke-width="1.6"/>
<line x1="363.20" y1="421.20" x2="365.20" y2="421.20" stroke="#000" stroke-width="0.7"/>
<text x="362.30" y="424.20" font-size="8.4" fill="#111" text-anchor="end" textLength="4.50" lengthAdjust="spacingAndGlyphs" stroke="#111" stroke-width="0.22">0</text>
<line x1="363.20" y1="401.80" x2="365.20" y2="401.80" stroke="#000" stroke-width="0.7"/>
<text x="362.30" y="404.80" font-size="8.4" fill="#111" text-anchor="end" textLength="4.50" lengthAdjust="spacingAndGlyphs" stroke="#111" stroke-width="0.22">2</text>
<line x1="363.20" y1="382.40" x2="365.20" y2="382.40" stroke="#000" stroke-width="0.7"/>
<text x="362.30" y="385.40" font-size="8.4" fill="#111" text-anchor="end" textLength="4.50" lengthAdjust="spacingAndGlyphs" stroke="#111" stroke-width="0.22">4</text>
<line x1="363.20" y1="363.00" x2="365.20" y2="363.00" stroke="#000" stroke-width="0.7"/>
<text x="362.30" y="366.00" font-size="8.4" fill="#111" text-anchor="end" textLength="4.50" lengthAdjust="spacingAndGlyphs" stroke="#111" stroke-width="0.22">6</text>
<line x1="363.20" y1="343.60" x2="365.20" y2="343.60" stroke="#000" stroke-width="0.7"/>
<text x="362.30" y="346.60" font-size="8.4" fill="#111" text-anchor="end" textLength="4.50" lengthAdjust="spacingAndGlyphs" stroke="#111" stroke-width="0.22">8</text>
<line x1="363.20" y1="324.20" x2="365.20" y2="324.20" stroke="#000" stroke-width="0.7"/>
<text x="362.30" y="327.20" font-size="8.4" fill="#111" text-anchor="end" textLength="9.00" lengthAdjust="spacingAndGlyphs" stroke="#111" stroke-width="0.22">10</text>
<line x1="373.10" y1="421.20" x2="373.10" y2="423.20" stroke="#000" stroke-width="0.7"/>
<text x="373.10" y="429.80" font-size="8.4" fill="#111" text-anchor="middle" textLength="4.50" lengthAdjust="spacingAndGlyphs" stroke="#111" stroke-width="0.22">0</text>
<line x1="403.80" y1="421.20" x2="403.80" y2="423.20" stroke="#000" stroke-width="0.7"/>
<text x="403.80" y="429.80" font-size="8.4" fill="#111" text-anchor="middle" textLength="4.50" lengthAdjust="spacingAndGlyphs" stroke="#111" stroke-width="0.22">2</text>
<line x1="434.50" y1="421.20" x2="434.50" y2="423.20" stroke="#000" stroke-width="0.7"/>
<text x="434.50" y="429.80" font-size="8.4" fill="#111" text-anchor="middle" textLength="4.50" lengthAdjust="spacingAndGlyphs" stroke="#111" stroke-width="0.22">4</text>
<line x1="465.20" y1="421.20" x2="465.20" y2="423.20" stroke="#000" stroke-width="0.7"/>
<text x="465.20" y="429.80" font-size="8.4" fill="#111" text-anchor="middle" textLength="4.50" lengthAdjust="spacingAndGlyphs" stroke="#111" stroke-width="0.22">6</text>
<text x="368.00" y="440.10" font-size="9.8" fill="#111" textLength="101.80" lengthAdjust="spacingAndGlyphs" stroke="#111" stroke-width="0.22">Codon frequency (%)</text>
<text x="348.90" y="415.20" font-size="9.4" fill="#111" textLength="95.00" lengthAdjust="spacingAndGlyphs" transform="rotate(-90 348.90 415.20)" stroke="#111" stroke-width="0.22">tRNA frequency (%)</text>
<line x1="373.20" y1="386.20" x2="436.10" y2="420.70" stroke="#111" stroke-width="1.2"/>
<circle cx="373.60" cy="335.70" r="1.35"/>
<circle cx="375.80" cy="338.30" r="1.35"/>
<circle cx="377.60" cy="338.70" r="1.35"/>
<circle cx="379.00" cy="338.90" r="1.35"/>
<circle cx="380.80" cy="338.30" r="1.35"/>
<circle cx="373.30" cy="340.80" r="1.35"/>
<circle cx="373.30" cy="344.10" r="1.35"/>
<circle cx="376.10" cy="343.80" r="1.35"/>
<circle cx="387.20" cy="331.30" r="1.35"/>
<circle cx="389.90" cy="347.70" r="1.35"/>
<circle cx="412.70" cy="327.60" r="1.35"/>
<circle cx="384.00" cy="396.50" r="1.35"/>
<circle cx="392.40" cy="397.90" r="1.35"/>
<circle cx="381.80" cy="402.70" r="1.35"/>
<circle cx="393.50" cy="402.10" r="1.35"/>
<circle cx="378.40" cy="405.20" r="1.35"/>
<circle cx="382.40" cy="405.00" r="1.35"/>
<circle cx="385.20" cy="404.60" r="1.35"/>
<circle cx="389.10" cy="404.60" r="1.35"/>
<circle cx="390.80" cy="404.60" r="1.35"/>
<circle cx="401.40" cy="404.10" r="1.35"/>
<circle cx="414.60" cy="405.00" r="1.35"/>
<circle cx="418.40" cy="406.40" r="1.35"/>
<circle cx="379.60" cy="409.70" r="1.35"/>
<circle cx="392.40" cy="409.70" r="1.35"/>
<circle cx="398.60" cy="411.30" r="1.35"/>
<circle cx="412.90" cy="410.50" r="1.35"/>
<circle cx="374.50" cy="415.00" r="1.35"/>
<circle cx="378.40" cy="414.10" r="1.35"/>
<circle cx="382.90" cy="416.40" r="1.35"/>
<circle cx="384.00" cy="416.60" r="1.35"/>
<circle cx="391.90" cy="414.70" r="1.35"/>
<circle cx="378.40" cy="418.00" r="1.35"/>
<circle cx="389.10" cy="417.00" r="1.35"/>
<circle cx="390.20" cy="417.50" r="1.35"/>
<circle cx="393.00" cy="418.00" r="1.35"/>
<circle cx="394.70" cy="418.00" r="1.35"/>
<circle cx="389.60" cy="419.70" r="1.35"/>
<circle cx="401.40" cy="415.30" r="1.35"/>
<circle cx="403.00" cy="418.60" r="1.35"/>
<circle cx="405.30" cy="415.50" r="1.35"/>
<circle cx="407.00" cy="418.00" r="1.35"/>
<circle cx="407.50" cy="419.70" r="1.35"/>
<circle cx="408.60" cy="419.20" r="1.35"/>
<circle cx="411.50" cy="419.60" r="1.35"/>
<circle cx="416.10" cy="416.30" r="1.35"/>
<circle cx="419.00" cy="415.30" r="1.35"/>
<circle cx="419.40" cy="416.60" r="1.35"/>
<circle cx="421.20" cy="419.60" r="1.35"/>
<circle cx="425.80" cy="416.60" r="1.35"/>
<circle cx="426.30" cy="416.00" r="1.35"/>
<circle cx="435.50" cy="416.60" r="1.35"/>
<circle cx="440.30" cy="414.50" r="1.35"/>
<circle cx="447.00" cy="411.50" r="1.35"/>
<circle cx="467.70" cy="413.70" r="1.35"/>
<path d="M563.20 285.10 L563.20 283.60 L566.07 283.60 L566.07 279.40 L568.94 279.40 L568.94 280.60 L571.81 280.60 L571.81 271.50 L574.68 271.50 L574.68 269.80 L577.55 269.80 L577.55 257.00 L580.42 257.00 L580.42 267.90 L583.29 267.90 L583.29 253.60 L586.16 253.60 L586.16 268.50 L589.03 268.50 L589.03 268.50 L591.90 268.50 L591.90 276.80 L594.77 276.80 L594.77 280.90 L597.64 280.90 L597.64 284.10 L600.51 284.10 L600.51 284.50 L603.38 284.50 L603.38 285.10 Z" fill="#9d8ab8"/>
<path d="M531.40 285.10 L531.40 284.30 L534.27 284.30 L534.27 282.10 L537.14 282.10 L537.14 277.00 L540.01 277.00 L540.01 282.10 L542.88 282.10 L542.88 267.40 L545.75 267.40 L545.75 257.10 L548.62 257.10 L548.62 269.10 L551.49 269.10 L551.49 275.90 L554.36 275.90 L554.36 277.90 L557.23 277.90 L557.23 275.10 L560.10 275.10 L560.10 272.30 L562.97 272.30 L562.97 270.60 L565.84 270.60 L565.84 274.00 L568.71 274.00 L568.71 277.00 L571.58 277.00 L571.58 278.50 L574.45 278.50 L574.45 280.70 L577.32 280.70 L577.32 281.60 L580.19 281.60 L580.19 282.70 L583.06 282.70 L583.06 285.10 Z" fill="#aad1aa"/>
<path d="M563.20 285.10 L563.20 283.60 L565.84 283.60 L565.84 283.60 L566.07 283.60 L566.07 279.40 L568.71 279.40 L568.71 279.40 L568.94 279.40 L568.94 280.60 L571.58 280.60 L571.58 280.60 L571.81 280.60 L571.81 278.50 L574.45 278.50 L574.45 280.70 L574.68 280.70 L574.68 280.70 L577.32 280.70 L577.32 281.60 L577.55 281.60 L577.55 281.60 L580.19 281.60 L580.19 282.70 L580.42 282.70 L580.42 282.70 L583.06 282.70 L583.06 285.10 Z" fill="#8fad91"/>
<path d="M563.20 420.50 L563.20 419.00 L566.07 419.00 L566.07 414.80 L568.94 414.80 L568.94 416.00 L571.81 416.00 L571.81 406.90 L574.68 406.90 L574.68 405.20 L577.55 405.20 L577.55 392.40 L580.42 392.40 L580.42 403.30 L583.29 403.30 L583.29 389.00 L586.16 389.00 L586.16 403.90 L589.03 403.90 L589.03 403.90 L591.90 403.90 L591.90 412.20 L594.77 412.20 L594.77 416.30 L597.64 416.30 L597.64 419.50 L600.51 419.50 L600.51 419.90 L603.38 419.90 L603.38 420.50 Z" fill="#9d8ab8"/>
<rect x="551.80" y="419.70" width="2.90" height="0.80" fill="#9d8ab8"/>
<path d="M643.80 420.50 L643.80 417.30 L646.65 417.30 L646.65 411.70 L649.50 411.70 L649.50 402.00 L652.35 402.00 L652.35 386.30 L655.20 386.30 L655.20 364.40 L658.05 364.40 L658.05 371.90 L660.90 371.90 L660.90 419.20 L663.75 419.20 L663.75 420.50 Z" fill="#d98484"/>
<line x1="527.20" y1="178.30" x2="527.20" y2="286.30" stroke="#000" stroke-width="1.5"/>
<line x1="526.45" y1="285.50" x2="678.70" y2="285.50" stroke="#000" stroke-width="1.6"/>
<line x1="527.20" y1="313.20" x2="527.20" y2="421.90" stroke="#000" stroke-width="1.5"/>
<line x1="526.45" y1="421.10" x2="678.70" y2="421.10" stroke="#000" stroke-width="1.6"/>
<text x="478.50" y="175.80" font-size="22" fill="#000" font-weight="bold">D</text>
<line x1="525.20" y1="178.80" x2="527.20" y2="178.80" stroke="#000" stroke-width="0.7"/>
<text x="523.90" y="182.30" font-size="8.8" fill="#111" text-anchor="end" textLength="16.10" lengthAdjust="spacingAndGlyphs" stroke="#111" stroke-width="0.22">0.30</text>
<line x1="525.20" y1="196.58" x2="527.20" y2="196.58" stroke="#000" stroke-width="0.7"/>
<text x="523.90" y="200.08" font-size="8.8" fill="#111" text-anchor="end" textLength="16.10" lengthAdjust="spacingAndGlyphs" stroke="#111" stroke-width="0.22">0.25</text>
<line x1="525.20" y1="214.36" x2="527.20" y2="214.36" stroke="#000" stroke-width="0.7"/>
<text x="523.90" y="217.86" font-size="8.8" fill="#111" text-anchor="end" textLength="16.10" lengthAdjust="spacingAndGlyphs" stroke="#111" stroke-width="0.22">0.20</text>
<line x1="525.20" y1="232.14" x2="527.20" y2="232.14" stroke="#000" stroke-width="0.7"/>
<text x="523.90" y="235.64" font-size="8.8" fill="#111" text-anchor="end" textLength="16.10" lengthAdjust="spacingAndGlyphs" stroke="#111" stroke-width="0.22">0.15</text>
<line x1="525.20" y1="249.92" x2="527.20" y2="249.92" stroke="#000" stroke-width="0.7"/>
<text x="523.90" y="253.42" font-size="8.8" fill="#111" text-anchor="end" textLength="16.10" lengthAdjust="spacingAndGlyphs" stroke="#111" stroke-width="0.22">0.10</text>
<line x1="525.20" y1="267.70" x2="527.20" y2="267.70" stroke="#000" stroke-width="0.7"/>
<text x="523.90" y="271.20" font-size="8.8" fill="#111" text-anchor="end" textLength="16.10" lengthAdjust="spacingAndGlyphs" stroke="#111" stroke-width="0.22">0.05</text>
<line x1="525.20" y1="285.48" x2="527.20" y2="285.48" stroke="#000" stroke-width="0.7"/>
<text x="523.90" y="288.98" font-size="8.8" fill="#111" text-anchor="end" textLength="16.10" lengthAdjust="spacingAndGlyphs" stroke="#111" stroke-width="0.22">0.00</text>
<line x1="534.80" y1="285.50" x2="534.80" y2="287.50" stroke="#000" stroke-width="0.7"/>
<text x="534.80" y="294.70" font-size="8.6" fill="#111" text-anchor="middle" textLength="13.60" lengthAdjust="spacingAndGlyphs" stroke="#111" stroke-width="0.22">160</text>
<line x1="563.40" y1="285.50" x2="563.40" y2="287.50" stroke="#000" stroke-width="0.7"/>
<text x="563.40" y="294.70" font-size="8.6" fill="#111" text-anchor="middle" textLength="13.60" lengthAdjust="spacingAndGlyphs" stroke="#111" stroke-width="0.22">180</text>
<line x1="592.00" y1="285.50" x2="592.00" y2="287.50" stroke="#000" stroke-width="0.7"/>
<text x="592.00" y="294.70" font-size="8.6" fill="#111" text-anchor="middle" textLength="13.60" lengthAdjust="spacingAndGlyphs" stroke="#111" stroke-width="0.22">200</text>
<line x1="620.60" y1="285.50" x2="620.60" y2="287.50" stroke="#000" stroke-width="0.7"/>
<text x="620.60" y="294.70" font-size="8.6" fill="#111" text-anchor="middle" textLength="13.60" lengthAdjust="spacingAndGlyphs" stroke="#111" stroke-width="0.22">220</text>
<line x1="649.20" y1="285.50" x2="649.20" y2="287.50" stroke="#000" stroke-width="0.7"/>
<text x="649.20" y="294.70" font-size="8.6" fill="#111" text-anchor="middle" textLength="13.60" lengthAdjust="spacingAndGlyphs" stroke="#111" stroke-width="0.22">240</text>
<line x1="677.80" y1="285.50" x2="677.80" y2="287.50" stroke="#000" stroke-width="0.7"/>
<text x="677.80" y="294.70" font-size="8.6" fill="#111" text-anchor="middle" textLength="13.60" lengthAdjust="spacingAndGlyphs" stroke="#111" stroke-width="0.22">260</text>
<text x="546.00" y="304.80" font-size="9.5" fill="#111" textLength="113.60" lengthAdjust="spacingAndGlyphs" stroke="#111" stroke-width="0.22">Elongation latency (ms)</text>
<text x="504.00" y="275.80" font-size="9.3" fill="#111" textLength="88.00" lengthAdjust="spacingAndGlyphs" transform="rotate(-90 504.00 275.80)" stroke="#111" stroke-width="0.22">Probability density</text>
<text x="480.20" y="306.80" font-size="22" fill="#000" font-weight="bold">F</text>
<line x1="525.20" y1="314.40" x2="527.20" y2="314.40" stroke="#000" stroke-width="0.7"/>
<text x="523.90" y="317.90" font-size="8.8" fill="#111" text-anchor="end" textLength="16.10" lengthAdjust="spacingAndGlyphs" stroke="#111" stroke-width="0.22">0.30</text>
<line x1="525.20" y1="332.18" x2="527.20" y2="332.18" stroke="#000" stroke-width="0.7"/>
<text x="523.90" y="335.68" font-size="8.8" fill="#111" text-anchor="end" textLength="16.10" lengthAdjust="spacingAndGlyphs" stroke="#111" stroke-width="0.22">0.25</text>
<line x1="525.20" y1="349.96" x2="527.20" y2="349.96" stroke="#000" stroke-width="0.7"/>
<text x="523.90" y="353.46" font-size="8.8" fill="#111" text-anchor="end" textLength="16.10" lengthAdjust="spacingAndGlyphs" stroke="#111" stroke-width="0.22">0.20</text>
<line x1="525.20" y1="367.74" x2="527.20" y2="367.74" stroke="#000" stroke-width="0.7"/>
<text x="523.90" y="371.24" font-size="8.8" fill="#111" text-anchor="end" textLength="16.10" lengthAdjust="spacingAndGlyphs" stroke="#111" stroke-width="0.22">0.15</text>
<line x1="525.20" y1="385.52" x2="527.20" y2="385.52" stroke="#000" stroke-width="0.7"/>
<text x="523.90" y="389.02" font-size="8.8" fill="#111" text-anchor="end" textLength="16.10" lengthAdjust="spacingAndGlyphs" stroke="#111" stroke-width="0.22">0.10</text>
<line x1="525.20" y1="403.30" x2="527.20" y2="403.30" stroke="#000" stroke-width="0.7"/>
<text x="523.90" y="406.80" font-size="8.8" fill="#111" text-anchor="end" textLength="16.10" lengthAdjust="spacingAndGlyphs" stroke="#111" stroke-width="0.22">0.05</text>
<line x1="525.20" y1="421.08" x2="527.20" y2="421.08" stroke="#000" stroke-width="0.7"/>
<text x="523.90" y="424.58" font-size="8.8" fill="#111" text-anchor="end" textLength="16.10" lengthAdjust="spacingAndGlyphs" stroke="#111" stroke-width="0.22">0.00</text>
<line x1="534.80" y1="421.10" x2="534.80" y2="423.10" stroke="#000" stroke-width="0.7"/>
<text x="534.80" y="430.30" font-size="8.6" fill="#111" text-anchor="middle" textLength="13.60" lengthAdjust="spacingAndGlyphs" stroke="#111" stroke-width="0.22">160</text>
<line x1="563.40" y1="421.10" x2="563.40" y2="423.10" stroke="#000" stroke-width="0.7"/>
<text x="563.40" y="430.30" font-size="8.6" fill="#111" text-anchor="middle" textLength="13.60" lengthAdjust="spacingAndGlyphs" stroke="#111" stroke-width="0.22">180</text>
<line x1="592.00" y1="421.10" x2="592.00" y2="423.10" stroke="#000" stroke-width="0.7"/>
<text x="592.00" y="430.30" font-size="8.6" fill="#111" text-anchor="middle" textLength="13.60" lengthAdjust="spacingAndGlyphs" stroke="#111" stroke-width="0.22">200</text>
<line x1="620.60" y1="421.10" x2="620.60" y2="423.10" stroke="#000" stroke-width="0.7"/>
<text x="620.60" y="430.30" font-size="8.6" fill="#111" text-anchor="middle" textLength="13.60" lengthAdjust="spacingAndGlyphs" stroke="#111" stroke-width="0.22">220</text>
<line x1="649.20" y1="421.10" x2="649.20" y2="423.10" stroke="#000" stroke-width="0.7"/>
<text x="649.20" y="430.30" font-size="8.6" fill="#111" text-anchor="middle" textLength="13.60" lengthAdjust="spacingAndGlyphs" stroke="#111" stroke-width="0.22">240</text>
<line x1="677.80" y1="421.10" x2="677.80" y2="423.10" stroke="#000" stroke-width="0.7"/>
<text x="677.80" y="430.30" font-size="8.6" fill="#111" text-anchor="middle" textLength="13.60" lengthAdjust="spacingAndGlyphs" stroke="#111" stroke-width="0.22">260</text>
<text x="546.00" y="440.40" font-size="9.5" fill="#111" textLength="113.60" lengthAdjust="spacingAndGlyphs" stroke="#111" stroke-width="0.22">Elongation latency (ms)</text>
<text x="504.00" y="411.40" font-size="9.3" fill="#111" textLength="88.00" lengthAdjust="spacingAndGlyphs" transform="rotate(-90 504.00 411.40)" stroke="#111" stroke-width="0.22">Probability density</text>
<line x1="554.00" y1="246.00" x2="580.40" y2="246.00" stroke="#222" stroke-width="1.2"/>
<path d="M548.6 246.0 L555.2 242.2 L555.2 249.8 Z" fill="#000"/>
<line x1="580.40" y1="242.60" x2="580.40" y2="249.90" stroke="#222" stroke-width="1.2"/>
<text x="556.60" y="240.10" font-size="11.6" fill="#111" textLength="19.60" lengthAdjust="spacingAndGlyphs" font-family='"Liberation Serif", serif' stroke="#111" stroke-width="0.35">10%</text>
<line x1="582.20" y1="382.60" x2="644.00" y2="382.60" stroke="#222" stroke-width="1.2"/>
<path d="M650.0 382.6 L643.0 378.7 L643.0 386.5 Z" fill="#000"/>
<line x1="582.20" y1="378.90" x2="582.20" y2="386.50" stroke="#222" stroke-width="1.2"/>
<text x="602.60" y="377.60" font-size="11.8" fill="#111" textLength="20.80" lengthAdjust="spacingAndGlyphs" font-family='"Liberation Serif", serif' stroke="#111" stroke-width="0.35">25%</text>
</svg>
</body></html>
